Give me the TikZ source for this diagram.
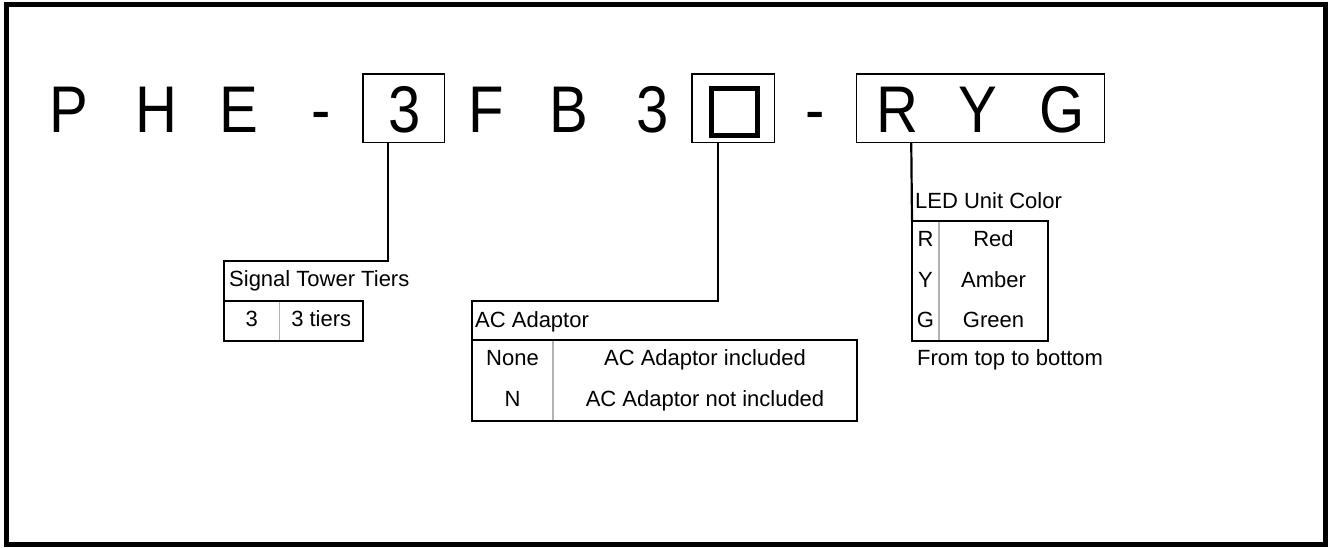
\documentclass[tikz,border=0pt]{standalone}
\usepackage{fontspec}
\setmainfont{Liberation Sans}
\newfontfamily\codefont[FakeStretch=0.88]{Liberation Sans}

\tikzset{
  code/.style={inner sep=0pt,anchor=base,font=\codefont\fontsize{66}{66}\selectfont},
  txt/.style={inner sep=0pt,anchor=base,font=\fontsize{22}{22}\selectfont},
  codebox/.style={draw,line width=1.5pt,inner sep=0pt,minimum height=68.5pt},
  wire/.style={line width=2.2pt},
  colsep/.style={draw=gray!60,line width=1.5pt}
}

\begin{document}
\begin{tikzpicture}[x=1pt,y=-1pt]

\useasboundingbox (0,0) rectangle (1328,547) ;
\draw[line width=5pt] (6.5,4.5) rectangle (1325.5,544.5) ;

% model code
\node[code] (ch_p) at (69,132) {P} ;
\node[code] (ch_h) at (156.5,132) {H} ;
\node[code] (ch_e) at (239,132) {E} ;
\node[code] (ch_d1) at (321.5,132) {-} ;
\node[codebox,minimum width=81.5pt] (box_tier) at (403.5,108) {} ;
\node[code] (ch_tier) at (404.5,132) {3} ;
\node[code] (ch_f) at (486.5,132) {F} ;
\node[code] (ch_b) at (569,132) {B} ;
\node[code] (ch_3) at (652.5,132) {3} ;
\node[codebox,minimum width=82.5pt] (box_adp) at (733,108) {} ;
\node[draw,line width=4.6pt,inner sep=0pt,minimum size=46.5pt] (sq_adp) at (734.5,112) {} ;
\node[code] (ch_d2) at (815,132) {-} ;
\node[codebox,minimum width=248pt] (box_col) at (980.5,108) {} ;
\node[code] (ch_r) at (897.5,132) {R} ;
\node[code] (ch_y) at (977.5,132) {Y} ;
\node[code] (ch_g) at (1062.5,132) {G} ;

% signal tower tiers
\coordinate (pt_sig) at (224,261) ;
\draw[wire] ([xshift=26pt]box_tier.south west) |- (pt_sig) -- (224,301) ;
\draw[colsep] (279.5,301) -- (279.5,341) ;
\draw[wire] (224,301) rectangle (363,341) ;
\node[txt,anchor=base west] (hd_sig) at (229,286) {Signal Tower Tiers} ;
\node[txt] (k_sig) at (251.75,326) {3} ;
\node[txt] (v_sig) at (321.25,326) {3 tiers} ;

% ac adaptor
\coordinate (pt_adp) at (472,301) ;
\draw[wire] ([xshift=27pt]box_adp.south west) |- (pt_adp) -- (472,340) ;
\draw[colsep] (553,340) -- (553,421) ;
\draw[wire] (472,340) rectangle (857,421) ;
\node[txt,anchor=base west] (hd_adp) at (475,327) {AC Adaptor} ;
\node[txt] (k_adp1) at (512.5,365) {None} ;
\node[txt] (k_adp2) at (512.5,406) {N} ;
\node[txt] (v_adp1) at (705,365) {AC Adaptor included} ;
\node[txt] (v_adp2) at (705,406) {AC Adaptor not included} ;

% led unit color
\coordinate (pt_col) at (912,221) ;
\draw[wire] ([xshift=55.5pt]box_col.south west) -- (pt_col) ;
\draw[colsep] (939,221) -- (939,341) ;
\draw[wire] (pt_col) rectangle (1048,341) ;
\node[txt,anchor=base west] (hd_col) at (915,208) {LED Unit Color} ;
\node[txt] (k_col1) at (925.5,246) {R} ;
\node[txt] (k_col2) at (925.5,287) {Y} ;
\node[txt] (k_col3) at (925.5,327) {G} ;
\node[txt] (v_col1) at (993.5,246) {Red} ;
\node[txt] (v_col2) at (993.5,287) {Amber} ;
\node[txt] (v_col3) at (993.5,327) {Green} ;
\node[txt,anchor=base west] (nt_col) at (917,365) {From top to bottom} ;

\end{tikzpicture}
\end{document}
